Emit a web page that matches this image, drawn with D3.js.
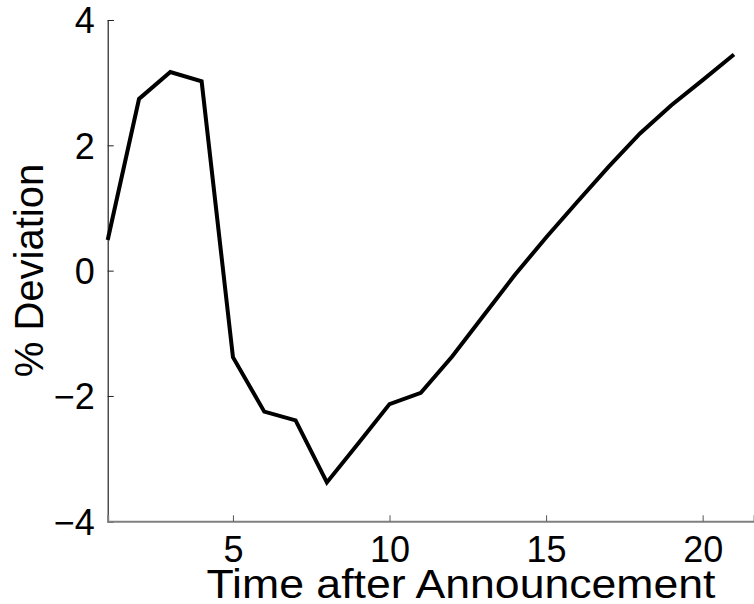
<!DOCTYPE html>
<html>
<head>
<meta charset="utf-8">
<script src="https://cdn.jsdelivr.net/npm/d3@7"></script>
<style>
  body { margin: 0; background: #fff; }
  text { font-family: "Liberation Sans", Arial, sans-serif; fill: #000; }
</style>
</head>
<body>
<div id="chart-area"></div>
<script>
// periods after the announcement
const periods = [1, 2, 3, 4, 5, 6, 7, 8, 9, 10, 11, 12, 13, 14, 15, 16, 17, 18, 19, 20, 21];
// % deviation
const deviation = [0.49, 2.74, 3.17, 3.02, -1.38, -2.25, -2.39, -3.38, -2.76, -2.13, -1.95,
    -1.37, -0.72, -0.07, 0.53, 1.10, 1.66, 2.19, 2.64, 3.04, 3.45];
const xTicks = [5, 10, 15, 20];
const yTicks = [-4, -2, 0, 2, 4];

const width = 754, height = 604;
const svg = d3.select("#chart-area")
    .append("svg")
    .attr("width", width)
    .attr("height", height);

const x = d3.scaleLinear()
    .domain([1, 21.64])
    .range([107.7, 754]);
const y = d3.scaleLinear()
    .domain([-4, 4])
    .range([521.3, 20]);

// y axis
const yAxis = svg.append("g")
    .attr("transform", "translate(107.7,0)")
    .call(d3.axisLeft(y).tickValues(yTicks).tickSize(-6).tickPadding(13)
        .tickFormat(d => d < 0 ? "\u2212" + Math.abs(d) : d));
yAxis.select(".domain").attr("stroke", "#222").attr("stroke-width", 1.2);
yAxis.selectAll(".tick line").attr("stroke", "#222");
yAxis.selectAll("text").attr("font-size", "36px").attr("text-anchor", "end").attr("dy", "0.36em");

// x axis
const xAxis = svg.append("g")
    .attr("transform", "translate(0,521.3)")
    .call(d3.axisBottom(x).tickValues(xTicks).tickSize(-6).tickPadding(15));
xAxis.select(".domain").attr("stroke", "#808080").attr("stroke-width", 2);
xAxis.selectAll(".tick line").attr("stroke", "#555");
xAxis.selectAll("text").attr("font-size", "36px").attr("dy", "0.71em");

// line
const line = d3.line()
    .x((d, i) => x(periods[i]))
    .y(d => y(d));
svg.append("path")
    .datum(deviation)
    .attr("fill", "none")
    .attr("stroke", "#000")
    .attr("stroke-width", 4)
    .attr("stroke-linejoin", "miter")
    .attr("d", line);

// x label
svg.append("text")
    .attr("x", 461)
    .attr("y", 597.5)
    .attr("font-size", "40px")
    .attr("text-anchor", "middle")
    .attr("textLength", 509)
    .attr("lengthAdjust", "spacingAndGlyphs")
    .text("Time after Announcement");

// y label
svg.append("text")
    .attr("transform", "translate(43,270.5) rotate(-90)")
    .attr("font-size", "40px")
    .attr("text-anchor", "middle")
    .text("% Deviation");
</script>
</body>
</html>
